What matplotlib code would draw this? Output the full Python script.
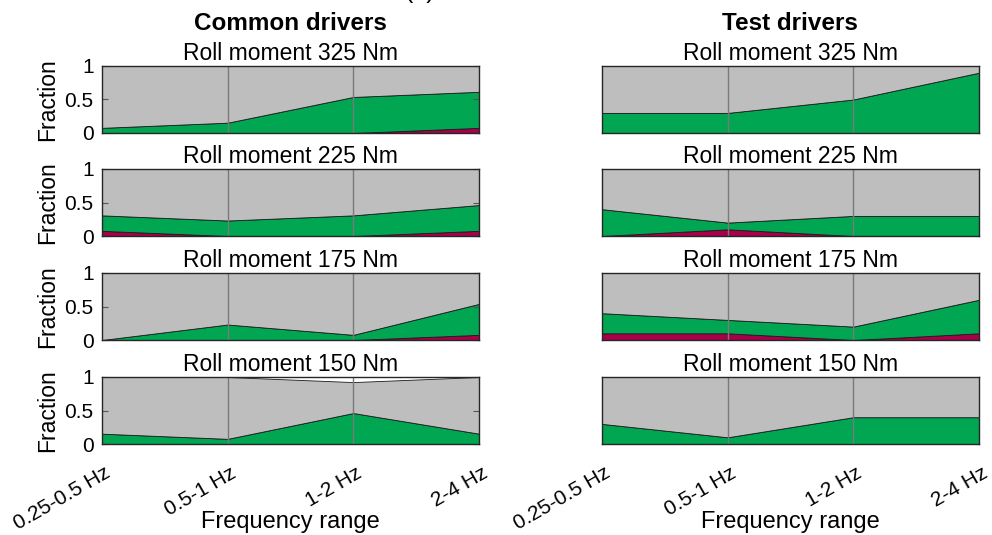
import matplotlib.pyplot as plt
import matplotlib.transforms as mtransforms
import numpy as np

plt.rcParams['font.family'] = ['Liberation Sans', 'DejaVu Sans']

freq_labels = ['0.25-0.5 Hz', '0.5-1 Hz', '1-2 Hz', '2-4 Hz']
moments = [325, 225, 175, 150]

# fractions per roll moment (rows) and frequency range (columns)
common_red = [[0, 0, 0, 0.077],
              [0.077, 0, 0, 0.077],
              [0, 0, 0, 0.077],
              [0, 0, 0, 0]]
common_green = [[0.077, 0.154, 0.538, 0.538],
                [0.231, 0.231, 0.308, 0.385],
                [0, 0.231, 0.077, 0.462],
                [0.154, 0.077, 0.462, 0.154]]
common_grey = [[0.923, 0.846, 0.462, 0.385],
               [0.692, 0.769, 0.692, 0.538],
               [1.0, 0.769, 0.923, 0.462],
               [0.846, 0.923, 0.462, 0.846]]

test_red = [[0, 0, 0, 0],
            [0, 0.1, 0, 0],
            [0.1, 0.1, 0, 0.1],
            [0, 0, 0, 0]]
test_green = [[0.3, 0.3, 0.5, 0.9],
              [0.4, 0.1, 0.3, 0.3],
              [0.3, 0.2, 0.2, 0.5],
              [0.3, 0.1, 0.4, 0.4]]
test_grey = [[0.7, 0.7, 0.5, 0.1],
             [0.6, 0.8, 0.7, 0.7],
             [0.6, 0.7, 0.8, 0.4],
             [0.7, 0.9, 0.6, 0.6]]

colors = ['#A8004A', '#00A651', '#BEBEBE']

fig = plt.figure(figsize=(9.92, 5.35), dpi=100)

W, H = 992, 535
col_left = [102, 602]
col_width = 377
row_top = [66, 169, 273, 377]
row_height = 67

groups = [(common_red, common_green, common_grey),
          (test_red, test_green, test_grey)]

x = np.arange(1, len(freq_labels) + 1)

# nudge rotated tick labels a little right
shift = mtransforms.ScaledTranslation(7 / 100, 0, fig.dpi_scale_trans)

for c, (red, green, grey) in enumerate(groups):
    for r, m in enumerate(moments):
        ax = fig.add_axes([col_left[c] / W, 1 - (row_top[r] + row_height) / H,
                           col_width / W, row_height / H])
        ax.stackplot(x, red[r], green[r], grey[r], colors=colors,
                     edgecolor='#1a1a1a', linewidth=0.6)
        for xv in x[1:-1]:
            ax.axvline(xv, color='#7a7a7a', linewidth=1.0, zorder=3)
        ax.set_xlim(1, 4)
        ax.set_ylim(0, 1)
        ax.set_title(f'Roll moment {m} Nm', fontsize=16.5, pad=4)
        for s in ax.spines.values():
            s.set_color('#262626')
            s.set_linewidth(1.0)
            s.set_zorder(4)
        ax.set_xticks(x)
        ax.tick_params(axis='x', length=0)
        if r == len(moments) - 1:
            ax.set_xticklabels(freq_labels, rotation=30, ha='right',
                               va='center', rotation_mode='anchor', fontsize=15)
            ax.tick_params(axis='x', pad=20)
            for lbl in ax.get_xticklabels():
                lbl.set_transform(lbl.get_transform() + shift)
        else:
            ax.set_xticklabels([])
        if c == 0:
            ax.set_yticks([0, 0.5, 1])
            ax.set_yticklabels(['0', '0.5', '1'], fontsize=15)
            ax.tick_params(axis='y', direction='in', length=4, right=True,
                           color='#555555', pad=6)
            ax.set_ylabel('Fraction', fontsize=16.5, labelpad=4)
        else:
            ax.set_yticks([])

    xc = (col_left[c] + col_width / 2) / W
    fig.text(xc, 1 - 522 / H, 'Frequency range', fontsize=17,
             ha='center', va='center')

fig.text(290 / W, 1 - 24 / H, 'Common drivers', fontsize=17.5,
         fontweight='bold', ha='center', va='center')
fig.text(790 / W, 1 - 24 / H, 'Test drivers', fontsize=17.5,
         fontweight='bold', ha='center', va='center')
fig.text(420 / W, 1 + 2 / H, '(a)', fontsize=18, ha='center', va='baseline')

fig.savefig('out.png', dpi=100)
